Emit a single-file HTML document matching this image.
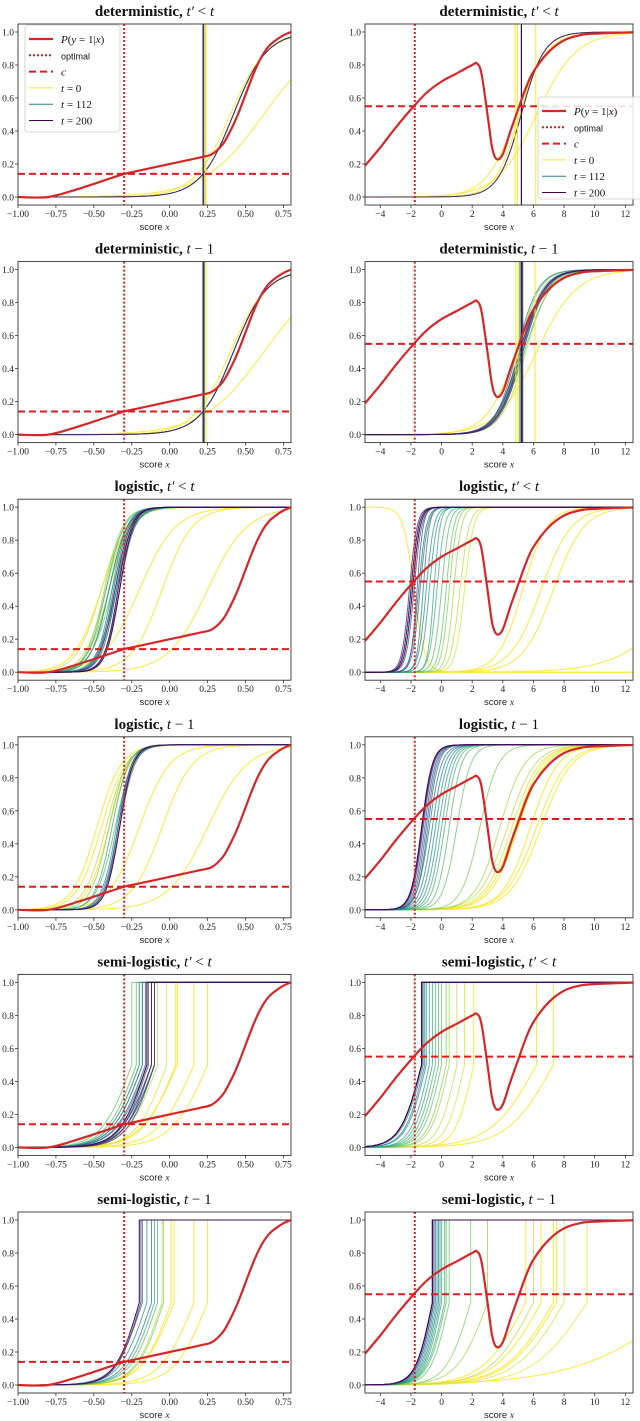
<!DOCTYPE html>
<html><head><meta charset="utf-8"><style>
html,body{margin:0;padding:0;background:#fff;}
svg{display:block;font-family:"Liberation Serif","DejaVu Serif",serif;}
</style></head><body>
<svg id="fig" width="640" height="1421" viewBox="0 0 640 1421" xmlns="http://www.w3.org/2000/svg"></svg>
<script>
// ---- true conditional probability P(y=1|x) ----
const leftPX = [-1.0,-0.8,-0.6,-0.4,-0.3,-0.2,0.0,0.2,0.28,0.35,0.4,0.45,0.5,0.55,0.6,0.65,0.7,0.75,0.8];
const leftPY = [0,0,0.05,0.11,0.14,0.16,0.2,0.24,0.26,0.32,0.4,0.5,0.62,0.74,0.84,0.91,0.95,0.98,1.0];
const rightPX = [-5,-4,-3,-2,-1,0,1,2,2.3,2.6,3,3.3,3.6,4,4.5,5,5.5,6,7,8,9,10,13];
const rightPY = [0.19,0.3,0.42,0.53,0.63,0.7,0.75,0.8,0.81,0.75,0.5,0.3,0.23,0.26,0.4,0.53,0.66,0.76,0.88,0.95,0.98,0.99,1.0];
const leftOptimal = -0.3, rightOptimal = -1.75;
const leftC = 0.14, rightC = 0.55;
const leftTicks = [-1.0,-0.75,-0.5,-0.25,0.0,0.25,0.5,0.75];
const leftTickLabels = ["−1.00","−0.75","−0.50","−0.25","0.00","0.25","0.50","0.75"];
const rightTicks = [-4,-2,0,2,4,6,8,10,12];
const rightTickLabels = ["−4","−2","0","2","4","6","8","10","12"];
const yTicks = [0,0.2,0.4,0.6,0.8,1.0];
const yTickLabels = ["0.0","0.2","0.4","0.6","0.8","1.0"];

// ---- classifier curves per panel: time index, center, scale ----
const p1T=[0,0,50,112,200], p1C=[0.62,0.40,0.42,0.42,0.42], p1S=[0.2,0.12,0.11,0.11,0.11];
const p1V=[0.24,0.235,0.225,0.22], p1VT=[0,0,112,200];
const p2T=[0,0,0,112,200], p2C=[6.2,4.9,5.1,5.2,5.2], p2S=[1.3,1.0,0.8,0.75,0.75];
const p2V=[4.8,4.95,6.15,5.2,5.22], p2VT=[0,0,0,112,200];
const p3T=[0,0,30,80,140,200], p3C=[0.62,0.40,0.42,0.42,0.42,0.42], p3S=[0.2,0.12,0.11,0.11,0.11,0.11];
const p3V=[0.24,0.23,0.225,0.22], p3VT=[0,60,140,200];
const p4T=[0,0,20,40,60,80,100,120,140,160,180,200], p4C=[6.2,4.9,5.5,5.0,5.4,5.1,5.3,4.9,5.2,5.3,5.1,5.2], p4S=[1.3,1.0,0.8,0.7,0.85,0.75,0.8,0.7,0.8,0.75,0.8,0.75];
const p4V=[4.85,5.0,6.1,5.1,5.2,5.3,5.25,5.2], p4VT=[0,0,0,60,100,140,170,200];
const p5T=[0,0,0,0,0,10,20,30,40,50,60,70,80,90,100,110,120,130,140,150,160,170,180,190,200];
const p5C=[0.25,-0.05,-0.45,-0.4,-0.2,-0.45,-0.42,-0.4,-0.43,-0.38,-0.4,-0.36,-0.42,-0.35,-0.38,-0.4,-0.36,-0.33,-0.37,-0.35,-0.34,-0.36,-0.33,-0.34,-0.33];
const p5S=[0.13,0.1,0.09,0.07,0.12,0.08,0.07,0.07,0.06,0.07,0.06,0.06,0.06,0.06,0.05,0.06,0.05,0.05,0.05,0.05,0.045,0.05,0.045,0.045,0.045];
const p6T=[0,0,0,0,0,0,10,20,30,40,50,60,70,80,90,100,110,120,130,140,150,160,170,180,190,200];
const p6C=[-1.8,5.3,6.5,7.3,16,40,1.5,1.2,0.8,0.5,0.3,0,-0.3,-0.5,-0.8,-1,-1.2,-1.4,-1.5,-1.6,-1.8,-1.9,-2,-2.1,-2.0,-1.9];
const p6S=[-0.35,0.8,1.0,1.0,2.0,1,0.3,0.3,0.25,0.25,0.25,0.25,0.25,0.2,0.25,0.25,0.2,0.25,0.25,0.2,0.25,0.25,0.25,0.25,0.25,0.25];
const p7T=[0,0,0,0,0,0,20,40,60,80,100,120,140,160,180,200];
const p7C=[0.25,-0.05,-0.48,-0.45,-0.4,-0.2,-0.42,-0.4,-0.36,-0.38,-0.35,-0.34,-0.33,-0.34,-0.33,-0.33];
const p7S=[0.13,0.1,0.08,0.08,0.07,0.1,0.07,0.06,0.06,0.055,0.05,0.05,0.05,0.045,0.045,0.045];
const p8T=[0,0,0,0,0,10,20,30,40,50,60,70,80,90,100,110,120,130,140,150,160,170,180,190,200];
const p8C=[6.2,6.5,5.8,5.0,4.8,4.6,4.3,3.8,2.5,1.0,0.5,0.2,0,-0.2,-0.4,-0.6,-0.8,-0.9,-1,-1.1,-1.2,-1.25,-1.3,-1.3,-1.3];
const p8S=[1.0,1.0,0.9,0.9,0.9,0.9,0.9,0.8,0.6,0.45,0.4,0.4,0.4,0.4,0.4,0.4,0.4,0.35,0.35,0.35,0.35,0.35,0.35,0.35,0.35];
const p9T=[0,0,0,0,10,20,30,40,50,60,70,80,90,100,110,120,130,140,150,160,170,180,190,200];
const p9C=[0.25,0.16,0.05,0.04,-0.02,-0.08,-0.1,-0.2,-0.25,-0.22,-0.18,-0.12,-0.2,-0.1,-0.15,-0.18,-0.1,-0.12,-0.16,-0.14,-0.1,-0.15,-0.12,-0.15];
const p9S=[0.12,0.12,0.12,0.11,0.1,0.1,0.1,0.1,0.1,0.1,0.1,0.1,0.1,0.1,0.1,0.1,0.1,0.1,0.1,0.09,0.09,0.09,0.09,0.09];
const p10T=[0,0,0,10,20,30,40,50,60,70,80,90,100,110,120,130,140,150,160,170,180,190,200];
const p10C=[7.3,6.2,2.1,1.5,1.0,0.5,0.3,0,-0.2,-0.4,-0.6,-0.8,-1,-1.1,-1.2,-1.3,-1.3,-1.3,-1.3,-1.3,-1.3,-1.3,-1.3];
const p10S=[1.5,1.5,0.6,0.6,0.6,0.6,0.6,0.6,0.6,0.6,0.6,0.6,0.65,0.65,0.7,0.7,0.7,0.7,0.7,0.7,0.7,0.7,0.7];
const p11T=[0,0,0,0,20,40,60,80,100,120,140,160,180,200];
const p11C=[0.25,0.16,0.03,0.01,-0.05,-0.04,-0.08,-0.1,-0.15,-0.12,-0.18,-0.2,-0.19,-0.2];
const p11S=[0.11,0.11,0.11,0.1,0.09,0.09,0.09,0.09,0.09,0.09,0.09,0.08,0.08,0.08];
const p12T=[0,0,0,0,0,5,10,20,30,40,50,60,70,80,90,100,110,120,130,140,150,160,170,180,190,200];
const p12C=[7.5,7.3,6.5,5.5,16,9.5,8.0,6.0,3.0,1.9,0.5,0.3,0.2,0,-0.1,-0.2,-0.3,-0.4,-0.5,-0.5,-0.6,-0.6,-0.6,-0.6,-0.6,-0.6];
const p12S=[1.6,1.6,1.5,1.4,3.5,1.8,1.6,1.4,1.0,0.8,0.6,0.6,0.6,0.55,0.55,0.55,0.55,0.55,0.55,0.55,0.55,0.55,0.55,0.55,0.55,0.55];

const panels = [
 {kind:'det',side:'L',title:'deterministic',sub:'prime',T:p1T,C:p1C,S:p1S,V:p1V,VT:p1VT,legend:'ul'},
 {kind:'det',side:'R',title:'deterministic',sub:'prime',T:p2T,C:p2C,S:p2S,V:p2V,VT:p2VT,legend:'r'},
 {kind:'det',side:'L',title:'deterministic',sub:'minus',T:p3T,C:p3C,S:p3S,V:p3V,VT:p3VT},
 {kind:'det',side:'R',title:'deterministic',sub:'minus',T:p4T,C:p4C,S:p4S,V:p4V,VT:p4VT},
 {kind:'log',side:'L',title:'logistic',sub:'prime',T:p5T,C:p5C,S:p5S},
 {kind:'log',side:'R',title:'logistic',sub:'prime',T:p6T,C:p6C,S:p6S},
 {kind:'log',side:'L',title:'logistic',sub:'minus',T:p7T,C:p7C,S:p7S},
 {kind:'log',side:'R',title:'logistic',sub:'minus',T:p8T,C:p8C,S:p8S},
 {kind:'semi',side:'L',title:'semi-logistic',sub:'prime',T:p9T,C:p9C,S:p9S},
 {kind:'semi',side:'R',title:'semi-logistic',sub:'prime',T:p10T,C:p10C,S:p10S},
 {kind:'semi',side:'L',title:'semi-logistic',sub:'minus',T:p11T,C:p11C,S:p11S},
 {kind:'semi',side:'R',title:'semi-logistic',sub:'minus',T:p12T,C:p12C,S:p12S},
];

const NS='http://www.w3.org/2000/svg';
const svg=document.getElementById('fig');
function mk(tag,attrs,parent){const e=document.createElementNS(NS,tag);for(const k in attrs)e.setAttribute(k,attrs[k]);(parent||svg).appendChild(e);return e;}
const VIR=[[0,[68,1,84]],[0.25,[59,82,139]],[0.5,[33,145,140]],[0.75,[94,201,98]],[1,[253,231,37]]];
function color(t){const u=1-t/200;for(let i=0;i<VIR.length-1;i++){const a=VIR[i],b=VIR[i+1];if(u<=b[0]){const f=(u-a[0])/(b[0]-a[0]);const c=a[1].map((v,j)=>Math.round(v+(b[1][j]-v)*f));return `rgb(${c})`;}}return 'rgb(253,231,37)';}
function smoothPath(pts){let d=`M${pts[0][0].toFixed(1)},${pts[0][1].toFixed(1)}`;
  for(let i=0;i<pts.length-1;i++){const p0=pts[Math.max(i-1,0)],p1=pts[i],p2=pts[i+1],p3=pts[Math.min(i+2,pts.length-1)];
    const c1=[p1[0]+(p2[0]-p0[0])/6,p1[1]+(p2[1]-p0[1])/6],c2=[p2[0]-(p3[0]-p1[0])/6,p2[1]-(p3[1]-p1[1])/6];
    d+=`C${c1[0].toFixed(1)},${c1[1].toFixed(1)} ${c2[0].toFixed(1)},${c2[1].toFixed(1)} ${p2[0].toFixed(1)},${p2[1].toFixed(1)}`;}
  return d;}
const ROWH=237.6;
panels.forEach((p,i)=>{
  const row=Math.floor(i/2), off=row*ROWH;
  const L=p.side==='L';
  const x0=L?18:365, x1=L?291:633, xmin=L?-1.0:-5, xmax=L?0.8:12.5;
  const top=24+off, bot=205+off;
  const X=v=>x0+(v-xmin)/(xmax-xmin)*(x1-x0);
  const Y=v=>197+off-v*165;
  const g=mk('g',{});
  
  
  const cid='clip'+i;
  const cp=mk('clipPath',{id:cid},g);mk('rect',{x:x0,y:top,width:Math.min(x1,640)-x0,height:bot-top},cp);
  const plot=mk('g',{'clip-path':`url(#${cid})`},g);
  const N=200;
  p.T.forEach((t,k)=>{
    const c=p.C[k], s=p.S[k]; let d='';
    for(let j=0;j<=N;j++){
      const x=xmin+(xmax-xmin)*j/N; let y;
      if(p.kind==='semi'){ if(x<c) y=1/(1+Math.exp(-(x-c)/s)); else { if(j>0){const xp=xmin+(xmax-xmin)*(j-1)/N; if(xp<c){d+=`L${X(c).toFixed(1)},${Y(0.5).toFixed(1)}L${X(c).toFixed(1)},${Y(1).toFixed(1)}`;}} y=1;} }
      else y=1/(1+Math.exp(-(x-c)/s));
      d+=(j?'L':'M')+X(x).toFixed(1)+','+Y(y).toFixed(1);
    }
    const pa=mk('path',{d:d,fill:'none',stroke:color(t),'stroke-width':1,'stroke-opacity':t===0?0.9:0.75},plot);
    
    
  });
  if(p.V){p.V.forEach((v,k)=>{const ln=mk('line',{x1:X(v),x2:X(v),y1:top,y2:bot,stroke:color(p.VT[k]),'stroke-width':1},plot);
    
    });}
  const px=L?leftPX:rightPX, py=L?leftPY:rightPY;
  const pts=px.map((x,k)=>[X(x),Y(py[k])]);
  const pr=mk('path',{d:smoothPath(pts),fill:'none',stroke:'#d62728','stroke-width':2.2,'stroke-linejoin':'round'},plot);
  
  
  const opt=L?leftOptimal:rightOptimal, cc=L?leftC:rightC;
  const ol=mk('line',{x1:X(opt),x2:X(opt),y1:top,y2:bot,stroke:'#e31a1c','stroke-width':2,'stroke-dasharray':'2,2'},plot);
  
  
  const cl=mk('line',{x1:x0,x2:640,y1:Y(cc),y2:Y(cc),stroke:'#e31a1c','stroke-width':2,'stroke-dasharray':'7,4'},plot);
  
  
  mk('rect',{x:x0,y:top,width:x1-x0,height:bot-top,fill:'none',stroke:'#333','stroke-width':0.9},g);
  const tks=L?leftTicks:rightTicks, tl=L?leftTickLabels:rightTickLabels;
  tks.forEach((v,k)=>{mk('line',{x1:X(v),x2:X(v),y1:bot,y2:bot+3,stroke:'#333','stroke-width':0.8},g);
    const tx=mk('text',{x:X(v),y:bot+12,'font-size':9.5,'text-anchor':'middle',fill:'#222'},g);tx.textContent=tl[k];
    
    });
  yTicks.forEach((v,k)=>{mk('line',{x1:x0-3,x2:x0,y1:Y(v),y2:Y(v),stroke:'#333','stroke-width':0.8},g);
    const tx=mk('text',{x:x0-4,y:Y(v)+3.5,'font-size':9.5,'text-anchor':'end',fill:'#222'},g);tx.textContent=yTickLabels[k];
    
    });
  const xl=mk('text',{x:(x0+x1)/2,y:bot+25,'font-size':9.5,'text-anchor':'middle','font-family':'Liberation Sans, sans-serif',fill:'#222'},g);
  xl.innerHTML='score <tspan font-style="italic" font-family="Liberation Serif, serif">x</tspan>';
  
  
  const cx=L?154.5:499;
  const tt=mk('text',{x:cx,y:16+off,'font-size':15,'font-weight':'bold','text-anchor':'middle',fill:'#111'},g);
  tt.innerHTML=p.title+', '+(p.sub==='prime'?'<tspan font-style="italic" font-weight="normal">t′</tspan><tspan font-weight="normal"> &lt; </tspan><tspan font-style="italic" font-weight="normal">t</tspan>':'<tspan font-style="italic" font-weight="normal">t</tspan><tspan font-weight="normal"> − 1</tspan>');
  
  
  if(p.legend){
    const lx=p.legend==='ul'?25:538, ly=p.legend==='ul'?25:97, lw=p.legend==='ul'?95:105, lh=p.legend==='ul'?107:102;
    const lg=mk('g',{},g);
    
    
    mk('rect',{x:lx,y:ly,width:lw,height:lh,rx:3,fill:'#fff','fill-opacity':0.85,stroke:'#ccc','stroke-width':0.8},lg);
    const ents=[['<tspan font-style="italic">P</tspan>(<tspan font-style="italic">y</tspan> = 1|<tspan font-style="italic">x</tspan>)','#d62728',2.2,''],
      ['<tspan font-family="Liberation Sans, sans-serif" font-size="9">optimal</tspan>','#e31a1c',2,'2,2'],
      ['<tspan font-style="italic">c</tspan>','#e31a1c',2,'7,4'],
      ['<tspan font-style="italic">t</tspan> = 0',color(0),1,''],
      ['<tspan font-style="italic">t</tspan> = 112',color(112),1,''],
      ['<tspan font-style="italic">t</tspan> = 200',color(200),1,'']];
    ents.forEach((e,k)=>{const yy=ly+14+k*16.3;
      const en=mk('g',{},lg);
      
      
      const la={x1:lx+4,x2:lx+28,y1:yy,y2:yy,stroke:e[1],'stroke-width':e[2]};if(e[3])la['stroke-dasharray']=e[3];
      mk('line',la,en);
      const t=mk('text',{x:lx+36,y:yy+4,'font-size':11,fill:'#111'},en);t.innerHTML=e[0];});
  }
});
</script>
</body></html>
